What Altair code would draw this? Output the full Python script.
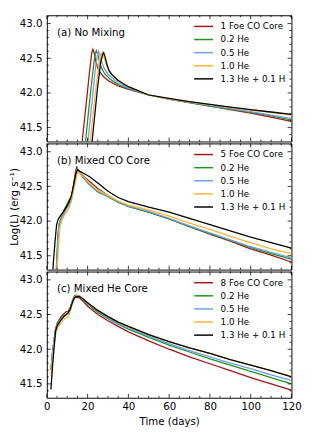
import altair as alt
import pandas as pd

# ---------------- data ----------------
panel_labels = ["(a) No Mixing", "(b) Mixed CO Core", "(c) Mixed He Core"]
first_names = ["1 Foe CO Core", "5 Foe CO Core", "8 Foe CO Core"]
other_names = ["0.2 He", "0.5 He", "1.0 He", "1.3 He + 0.1 H"]
colors = ["#a3141b", "#1f951f", "#6f9cf0", "#ffb52e", "#000000"]

# panel (a)
red_a_t = [16.8, 17.6, 18.2, 19.5, 21.0, 22.0, 22.6, 23.2, 24.0, 25.0, 26.5, 28.0, 30.5, 35, 40, 50, 60, 70, 80, 90, 100, 110, 120]
red_a_L = [41.1, 41.38, 41.54, 41.9, 42.32, 42.57, 42.63, 42.58, 42.46, 42.36, 42.28, 42.23, 42.17, 42.1, 42.05, 41.97, 41.91, 41.86, 41.81, 41.76, 41.71, 41.65, 41.59]
green_a_t = [18.6, 19.0, 20.0, 21.5, 23.0, 23.8, 24.3, 25.0, 26.0, 27.0, 28.5, 31, 35, 40, 50, 60, 70, 80, 90, 100, 110, 120]
green_a_L = [41.18, 41.3, 41.6, 42.02, 42.42, 42.57, 42.61, 42.55, 42.43, 42.35, 42.27, 42.2, 42.12, 42.06, 41.97, 41.91, 41.86, 41.81, 41.765, 41.72, 41.67, 41.61]
blue_a_t = [19.8, 20.2, 21.2, 22.6, 24.0, 24.9, 25.4, 26.1, 27.0, 28.2, 30, 32, 35, 40, 50, 60, 70, 80, 90, 100, 110, 120]
blue_a_L = [41.18, 41.3, 41.6, 42.0, 42.4, 42.56, 42.6, 42.54, 42.44, 42.35, 42.27, 42.22, 42.15, 42.07, 41.97, 41.91, 41.865, 41.82, 41.775, 41.73, 41.68, 41.63]
orange_a_t = [20.9, 21.3, 22.4, 24.0, 25.5, 26.6, 27.2, 27.9, 28.8, 30, 32, 35, 40, 50, 60, 70, 80, 90, 100, 110, 120]
orange_a_L = [41.18, 41.3, 41.62, 42.05, 42.42, 42.56, 42.59, 42.53, 42.44, 42.35, 42.27, 42.19, 42.09, 41.97, 41.915, 41.87, 41.83, 41.79, 41.75, 41.72, 41.68]
black_a_t = [21.8, 22.2, 23.3, 24.8, 26.3, 27.3, 27.9, 28.6, 29.5, 30.5, 32, 35, 40, 50, 60, 70, 80, 90, 100, 110, 120]
black_a_L = [41.18, 41.3, 41.62, 42.05, 42.42, 42.55, 42.58, 42.52, 42.41, 42.32, 42.26, 42.18, 42.09, 41.97, 41.92, 41.875, 41.835, 41.795, 41.76, 41.725, 41.69]

# panel (b)
red_b_t = [4.4, 4.9, 5.5, 6.0, 7.0, 8.0, 9.5, 11.0, 12.0, 13.0, 14.0, 14.6, 15.5, 17.0, 19.0, 21.0, 25.0, 30.0, 35.0, 40.0, 50.0, 60.0, 70.0, 80.0, 90.0, 100.0, 110.0, 120.0]
red_b_L = [41.1, 41.4, 41.75, 41.93, 42.02, 42.09, 42.17, 42.24, 42.32, 42.5, 42.7, 42.78, 42.73, 42.68, 42.62, 42.57, 42.47, 42.37, 42.28, 42.21, 42.13, 42.03, 41.92, 41.81, 41.71, 41.6, 41.51, 41.41]
green_b_t = [4.2, 4.8, 5.4, 6.0, 7.0, 8.0, 9.5, 10.8, 12.0, 13.0, 14.0, 14.8, 16.0, 18.0, 21.0, 25.0, 30.0, 35.0, 40.0, 50.0, 60.0, 70.0, 80.0, 90.0, 100.0, 110.0, 120.0]
green_b_L = [41.1, 41.4, 41.78, 41.96, 42.05, 42.13, 42.22, 42.3, 42.35, 42.48, 42.66, 42.76, 42.7, 42.62, 42.52, 42.42, 42.35, 42.27, 42.21, 42.13, 42.03, 41.92, 41.82, 41.72, 41.62, 41.53, 41.45]
blue_b_t = [4.3, 4.9, 5.5, 6.0, 7.0, 8.0, 9.5, 11.0, 12.0, 13.0, 14.2, 14.9, 16.0, 18.0, 21.0, 25.0, 30.0, 35.0, 40.0, 50.0, 60.0, 70.0, 80.0, 90.0, 100.0, 110.0, 120.0]
blue_b_L = [41.1, 41.4, 41.75, 41.93, 42.02, 42.09, 42.17, 42.24, 42.32, 42.47, 42.68, 42.75, 42.7, 42.63, 42.53, 42.43, 42.36, 42.28, 42.22, 42.14, 42.04, 41.93, 41.83, 41.73, 41.63, 41.55, 41.47]
orange_b_t = [4.7, 5.2, 5.8, 6.4, 7.0, 8.0, 9.5, 11.0, 12.0, 13.0, 14.3, 15.3, 16.5, 18.0, 21.0, 25.0, 30.0, 35.0, 40.0, 50.0, 60.0, 70.0, 80.0, 90.0, 100.0, 110.0, 120.0]
orange_b_L = [41.1, 41.35, 41.68, 41.9, 41.98, 42.05, 42.12, 42.2, 42.28, 42.42, 42.6, 42.72, 42.69, 42.64, 42.55, 42.45, 42.37, 42.29, 42.23, 42.16, 42.07, 41.97, 41.88, 41.78, 41.69, 41.6, 41.53]
black_b_t = [2.6, 3.2, 4.0, 4.8, 5.5, 6.5, 8.0, 9.5, 11.0, 12.0, 13.0, 14.2, 15.0, 16.0, 18.0, 21.0, 25.0, 30.0, 35.0, 40.0, 50.0, 60.0, 70.0, 80.0, 90.0, 100.0, 110.0, 120.0]
black_b_L = [41.1, 41.4, 41.7, 41.95, 42.02, 42.07, 42.13, 42.2, 42.28, 42.36, 42.5, 42.68, 42.74, 42.72, 42.69, 42.64, 42.55, 42.43, 42.34, 42.28, 42.2, 42.13, 42.04, 41.95, 41.86, 41.77, 41.69, 41.61]

# panel (c)
c_t = [2.0, 2.8, 3.5, 4.3, 5.0, 6.5, 8.0, 9.5, 10.5, 11.5, 12.5, 13.5, 14.5, 16.0, 17.5, 20.0, 25.0, 30.0, 35.0, 40.0, 50.0, 60.0, 70.0, 80.0, 90.0, 100.0, 110.0, 120.0]
red_c_L = [41.7, 41.95, 42.12, 42.29, 42.37, 42.45, 42.5, 42.54, 42.55, 42.6, 42.68, 42.74, 42.75, 42.74, 42.7, 42.62, 42.5, 42.41, 42.33, 42.25, 42.12, 42.0, 41.89, 41.79, 41.69, 41.59, 41.5, 41.41]
green_c_L = [41.7, 41.95, 42.12, 42.29, 42.36, 42.43, 42.48, 42.5, 42.53, 42.6, 42.7, 42.77, 42.78, 42.77, 42.72, 42.65, 42.53, 42.44, 42.36, 42.29, 42.17, 42.06, 41.96, 41.86, 41.77, 41.68, 41.59, 41.5]
blue_c_L = [41.7, 41.95, 42.12, 42.28, 42.35, 42.42, 42.47, 42.5, 42.52, 42.58, 42.68, 42.75, 42.77, 42.77, 42.73, 42.66, 42.55, 42.45, 42.37, 42.31, 42.19, 42.08, 41.98, 41.89, 41.8, 41.72, 41.63, 41.55]
orange_c_t = [2.0, 2.8, 3.5, 4.5, 5.5, 7.0, 8.5, 9.5, 10.6, 11.5, 12.5, 13.5, 14.5, 16.0, 17.5, 20.0, 25.0, 30.0, 35.0, 40.0, 50.0, 60.0, 70.0, 80.0, 90.0, 100.0, 110.0, 120.0]
orange_c_L = [41.62, 41.85, 42.05, 42.24, 42.32, 42.38, 42.43, 42.45, 42.47, 42.55, 42.66, 42.74, 42.77, 42.76, 42.73, 42.67, 42.56, 42.47, 42.39, 42.33, 42.21, 42.11, 42.02, 41.94, 41.85, 41.77, 41.69, 41.61]
black_c_L = [41.42, 41.75, 42.0, 42.26, 42.33, 42.4, 42.46, 42.5, 42.52, 42.58, 42.67, 42.74, 42.76, 42.76, 42.73, 42.67, 42.56, 42.47, 42.39, 42.33, 42.21, 42.11, 42.02, 41.94, 41.85, 41.77, 41.69, 41.6]

x_major = [0, 20, 40, 60, 80, 100, 120]
x_minor = [5, 10, 15, 25, 30, 35, 45, 50, 55, 65, 70, 75, 85, 90, 95, 105, 110, 115]
y_major = [41.5, 42.0, 42.5, 43.0]
y_minor = [41.4, 41.6, 41.7, 41.8, 41.9, 42.1, 42.2, 42.3, 42.4, 42.6, 42.7, 42.8, 42.9, 43.1]

panels = [
    [(red_a_t, red_a_L), (green_a_t, green_a_L), (blue_a_t, blue_a_L), (orange_a_t, orange_a_L), (black_a_t, black_a_L)],
    [(red_b_t, red_b_L), (green_b_t, green_b_L), (blue_b_t, blue_b_L), (orange_b_t, orange_b_L), (black_b_t, black_b_L)],
    [(c_t, red_c_L), (c_t, green_c_L), (c_t, blue_c_L), (orange_c_t, orange_c_L), (c_t, black_c_L)],
]

W, H = 252, 130
FONT = "DejaVu Sans"
xscale = alt.Scale(domain=[0, 120], nice=False, zero=False)
yscale = alt.Scale(domain=[41.3, 43.12], nice=False, zero=False)


def tick_layers():
    layers = []
    for vals, ln in ((x_major, 4), (x_minor, 2)):
        d = pd.DataFrame({"v": vals})
        layers.append(alt.Chart(d).mark_rule(color="black", strokeWidth=0.8).encode(
            x=alt.X("v:Q", scale=xscale), y=alt.value(H), y2=alt.value(H - ln)))
        layers.append(alt.Chart(d).mark_rule(color="black", strokeWidth=0.8).encode(
            x=alt.X("v:Q", scale=xscale), y=alt.value(0), y2=alt.value(ln)))
    for vals, ln in ((y_major, 4), (y_minor, 2)):
        d = pd.DataFrame({"v": vals})
        layers.append(alt.Chart(d).mark_rule(color="black", strokeWidth=0.8).encode(
            y=alt.Y("v:Q", scale=yscale), x=alt.value(0), x2=alt.value(ln)))
        layers.append(alt.Chart(d).mark_rule(color="black", strokeWidth=0.8).encode(
            y=alt.Y("v:Q", scale=yscale), x=alt.value(W), x2=alt.value(W - ln)))
    return layers


charts = []
for i, series in enumerate(panels):
    names = [first_names[i]] + other_names
    rows = []
    for name, (ts, ls) in zip(names, series):
        for t, l in zip(ts, ls):
            rows.append({"series": name, "t": t, "L": l})
    df = pd.DataFrame(rows)

    if i == 2:
        xaxis = alt.Axis(values=x_major, title="Time (days)", labelPadding=4, titlePadding=5,
                         format="d", labelFlush=False)
    else:
        xaxis = None
    if i == 1:
        yaxis = alt.Axis(values=y_major, format=".1f", labelPadding=5, labelFlush=False,
                         title="Log(L) (erg s\u207b\u00b9)", titleX=-28.5, titleY=H / 2)
    else:
        yaxis = alt.Axis(values=y_major, format=".1f", labelPadding=5, labelFlush=False,
                         title=None)

    lines = alt.Chart(df).mark_line(clip=True, strokeWidth=1.3).encode(
        x=alt.X("t:Q", scale=xscale, axis=xaxis, title="Time (days)" if i == 2 else None),
        y=alt.Y("L:Q", scale=yscale, axis=yaxis),
        color=alt.Color("series:N", scale=alt.Scale(domain=names, range=colors),
                        legend=alt.Legend(title=None, orient="none", legendX=154, legendY=4,
                                          symbolType="M-1.5,0H1.5", symbolSize=169,
                                          symbolStrokeWidth=1.5, labelFontSize=9,
                                          labelFont=FONT, labelOffset=10, rowPadding=0.5,
                                          padding=0, labelColor="black")),
    )
    label = alt.Chart(pd.DataFrame({"label": [panel_labels[i]]})).mark_text(
        align="left", baseline="middle", fontSize=10.5, font=FONT, color="black").encode(
        x=alt.value(10.5), y=alt.value(18), text="label:N")

    panel = alt.layer(lines, label, *tick_layers()).properties(width=W, height=H)
    charts.append(panel)

chart = alt.vconcat(*charts, spacing=0).resolve_scale(color="independent").configure(
    padding={"left": 0, "top": 0, "right": 5, "bottom": 5}
).configure_view(stroke="black", strokeWidth=1).configure_axis(
    labelFont=FONT, titleFont=FONT, labelFontSize=10.5, titleFontSize=10.5,
    labelColor="black", titleColor="black", grid=False, domain=False, ticks=False,
    titleFontWeight="normal")

chart.save("out.html", embed_options={"renderer": "svg", "actions": False})
